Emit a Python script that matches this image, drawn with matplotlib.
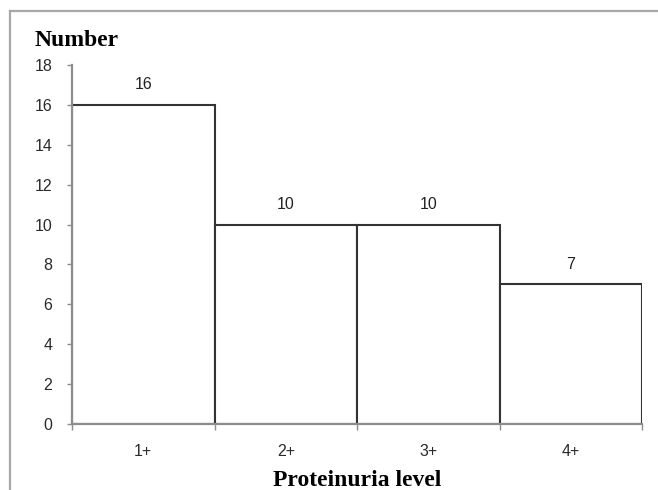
import matplotlib
matplotlib.use("Agg")
import matplotlib.pyplot as plt
from matplotlib.lines import Line2D

categories = ["1+", "2+", "3+", "4+"]
counts = [16, 10, 10, 7]
y_ticks = [0, 2, 4, 6, 8, 10, 12, 14, 16, 18]

W, H = 658, 490
fig = plt.figure(figsize=(W / 100, H / 100), dpi=100)
fig.patch.set_facecolor("white")

# outer frame (top and left edges)
fig.add_artist(Line2D([10 / W, 1.0], [1 - 11 / H, 1 - 11 / H], transform=fig.transFigure,
                      color="#a8a8a8", lw=1.6))
fig.add_artist(Line2D([10 / W, 10 / W], [0.0, 1 - 11 / H], transform=fig.transFigure,
                      color="#a8a8a8", lw=1.6))

ax = fig.add_axes([72 / W, 1 - 424 / H, (642 - 72) / W, (424 - 65) / H])

x = list(range(len(categories)))
ax.bar(x, counts, width=1.0, color="white", edgecolor="#333333", linewidth=1.5, zorder=1)

lab_font = dict(family="Liberation Sans", fontsize=11.5)

for xi, v in zip(x, counts):
    ax.annotate(str(v), (xi, v), xytext=(0, 14.5), textcoords="offset points",
                ha="center", va="center", color="#222222", **lab_font)

ax.set_xlim(-0.5, len(categories) - 0.5)
ax.set_ylim(0, 18)
ax.set_yticks(y_ticks)
ax.set_yticklabels([str(t) for t in y_ticks], color="#2a2a2a", **lab_font)

# boundary ticks on the x axis, category labels centred between them
ax.set_xticks([i - 0.5 for i in range(len(categories) + 1)])
ax.set_xticklabels([])
ax.set_xticks(x, minor=True)
ax.set_xticklabels(categories, minor=True, color="#2a2a2a", **lab_font)
ax.tick_params(axis="x", which="major", length=4.5, width=1, color="#8c8c8c", direction="out")
ax.tick_params(axis="x", which="minor", length=0, pad=14.5)
ax.tick_params(axis="y", length=3.6, width=1, color="#8c8c8c", direction="out", pad=10.5)

for side in ("top", "right"):
    ax.spines[side].set_visible(False)
for side in ("left", "bottom"):
    ax.spines[side].set_color("#8c8c8c")
    ax.spines[side].set_linewidth(1.6)
    ax.spines[side].set_zorder(3)

fig.text(35 / W, 1 - 46 / H, "Number", ha="left", va="baseline",
         family="Liberation Serif", fontweight="bold", fontsize=17)
fig.text(357 / W, 1 - 480 / H, "Proteinuria level", ha="center", va="center",
         family="Liberation Serif", fontweight="bold", fontsize=17)

fig.savefig("out.png", dpi=100, facecolor="white")
